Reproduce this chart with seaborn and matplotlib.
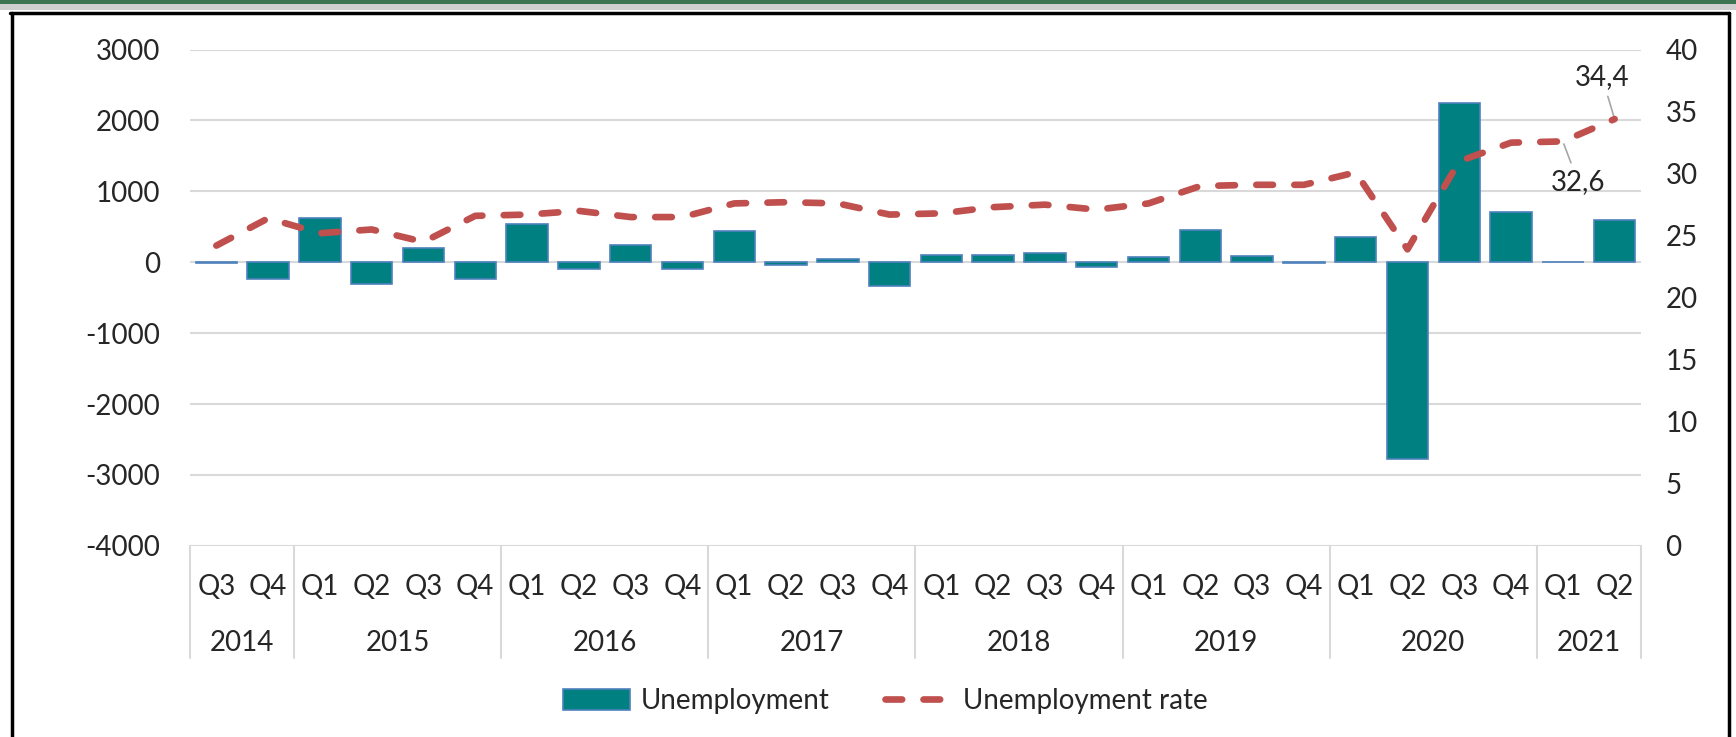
import matplotlib
matplotlib.use("Agg")
import matplotlib.pyplot as plt
import matplotlib.patches as mpatches
from matplotlib.lines import Line2D
from matplotlib import font_manager
import seaborn as sns
import numpy as np
import pandas as pd

years = ["2014", "2015", "2016", "2017", "2018", "2019", "2020", "2021"]
quarters = ["Q3", "Q4",
            "Q1", "Q2", "Q3", "Q4",
            "Q1", "Q2", "Q3", "Q4",
            "Q1", "Q2", "Q3", "Q4",
            "Q1", "Q2", "Q3", "Q4",
            "Q1", "Q2", "Q3", "Q4",
            "Q1", "Q2", "Q3", "Q4",
            "Q1", "Q2"]
quarter_years = (["2014"] * 2 + ["2015"] * 4 + ["2016"] * 4 + ["2017"] * 4 +
                 ["2018"] * 4 + ["2019"] * 4 + ["2020"] * 4 + ["2021"] * 2)
unemployment = [-15, -240, 630, -306, 197, -231, 540, -90, 243, -95,
                440, -40, 40, -335, 107, 107, 136, -71, 70, 460,
                89, -8, 353, -2772, 2243, 710, 10, 592]
unemployment_rate = [24.2, 26.4, 25.2, 25.5, 24.5, 26.6, 26.7, 27.0, 26.5, 26.5,
                     27.6, 27.7, 27.6, 26.7, 26.8, 27.3, 27.5, 27.1, 27.6, 29.0,
                     29.1, 29.1, 30.1, 23.9, 31.0, 32.5, 32.6, 34.4]
left_ticks = [-4000, -3000, -2000, -1000, 0, 1000, 2000, 3000]
right_ticks = [0, 5, 10, 15, 20, 25, 30, 35, 40]

avail = {f.name for f in font_manager.fontManager.ttflist}
fam = "Lato" if "Lato" in avail else "DejaVu Sans"

sns.set_theme(style="white")
plt.rcParams['font.family'] = [fam, 'DejaVu Sans']

FS = 20
TEAL = "#008080"
EDGE = "#4f81bd"
RED = "#c0504d"
GRID = "#d9d9d9"

df = pd.DataFrame({
    "period": [f"{y} {q}" for y, q in zip(quarter_years, quarters)],
    "unemployment": unemployment,
    "idx": np.arange(len(quarters)),
    "rate": unemployment_rate,
})

fig = plt.figure(figsize=(17.36, 7.37), dpi=100)
ax = fig.add_axes([0.1097, 0.2594, 0.945 - 0.1097, 0.9327 - 0.2594])

sns.barplot(data=df, x="period", y="unemployment", color=TEAL, saturation=1,
            edgecolor=EDGE, linewidth=1.2, width=0.8, ax=ax, zorder=3)
ax.set_ylim(-4000, 3000)
ax.set_yticks(left_ticks)
ax.set_yticklabels([str(v) for v in left_ticks], fontsize=FS)
ax.tick_params(axis='y', length=0, pad=22)
ax.set_xlim(-0.5, len(quarters) - 0.5)
ax.set_xticks(np.arange(len(quarters)))
ax.set_xticklabels(quarters, fontsize=FS)
ax.tick_params(axis='x', length=0, pad=20)
ax.set_xlabel("")
ax.set_ylabel("")
for v in left_ticks:
    ax.axhline(v, color=GRID, lw=1.5, zorder=1)
for s in ax.spines.values():
    s.set_visible(False)

# year labels and separators
trans = matplotlib.transforms.blended_transform_factory(ax.transData, ax.transAxes)
starts = [0]
for i in range(1, len(quarter_years)):
    if quarter_years[i] != quarter_years[i - 1]:
        starts.append(i)
bounds = starts + [len(quarter_years)]
for k, y in enumerate(years):
    a, b = bounds[k], bounds[k + 1]
    ax.text((a + b - 1) / 2, -0.195, y, transform=trans, ha='center', va='center', fontsize=FS)
for b in bounds:
    ax.plot([b - 0.5, b - 0.5], [0, -0.227], transform=trans, color=GRID, lw=1.5, clip_on=False)

ax2 = ax.twinx()
sns.lineplot(data=df, x="idx", y="rate", ax=ax2, color=RED, lw=4.8,
             dashes=False, zorder=4)
line = ax2.lines[0]
line.set_dashes([2.5, 3.2])
line.set_dash_capstyle('round')
ax2.set_ylim(0, 40)
ax2.set_yticks(right_ticks)
ax2.set_yticklabels([str(v) for v in right_ticks], fontsize=FS)
ax2.tick_params(axis='y', length=0, pad=18)
ax2.set_xlim(-0.5, len(quarters) - 0.5)
ax2.set_ylabel("")
ax2.set_xlabel("")
ax2.grid(False)
for s in ax2.spines.values():
    s.set_visible(False)

# labels on last points
n = len(unemployment_rate)
ax2.annotate(f"{unemployment_rate[n-1]:.1f}".replace('.', ','),
             xy=(n - 1, unemployment_rate[n - 1]), xytext=(-9, 30),
             textcoords='offset points', ha='center', va='center', fontsize=FS,
             arrowprops=dict(arrowstyle='-', color='#a6a6a6', lw=1.2, shrinkA=2, shrinkB=2))
ax2.annotate(f"{unemployment_rate[n-2]:.1f}".replace('.', ','),
             xy=(n - 2, unemployment_rate[n - 2]), xytext=(11, -29),
             textcoords='offset points', ha='center', va='center', fontsize=FS,
             arrowprops=dict(arrowstyle='-', color='#a6a6a6', lw=1.2, shrinkA=2, shrinkB=2))

handles = [mpatches.Patch(facecolor=TEAL, edgecolor=EDGE, linewidth=1.2, label="Unemployment"),
           Line2D([0], [0], color=RED, lw=4.8, dashes=[2.5, 3.2], dash_capstyle='round',
                  label="Unemployment rate")]
fig.legend(handles=handles, loc='center', bbox_to_anchor=(0.51, 0.049), ncol=2,
           frameon=False, fontsize=FS, handlelength=2.4, handleheight=0.8,
           columnspacing=2.0, handletextpad=0.4)

# outer decoration: green strip, gray shading, black frame
fig.patches.append(mpatches.Rectangle((0, 1 - 4 / 737), 1, 4 / 737, transform=fig.transFigure,
                                      facecolor="#3e7452", edgecolor='none', zorder=0))
fig.patches.append(mpatches.Rectangle((0, 1 - 10 / 737), 1, 6 / 737, transform=fig.transFigure,
                                      facecolor="#cfcfcf", edgecolor='none', zorder=0))
fig.lines.append(Line2D([10 / 1736, 1729 / 1736], [1 - 12.5 / 737, 1 - 12.5 / 737],
                        transform=fig.transFigure, color='black', lw=2.5))
fig.lines.append(Line2D([11.5 / 1736, 11.5 / 1736], [0, 1 - 12.5 / 737],
                        transform=fig.transFigure, color='black', lw=2.5))
fig.lines.append(Line2D([1729 / 1736, 1729 / 1736], [0, 1 - 12.5 / 737],
                        transform=fig.transFigure, color='black', lw=2.5))

fig.savefig("out.png", dpi=100)
